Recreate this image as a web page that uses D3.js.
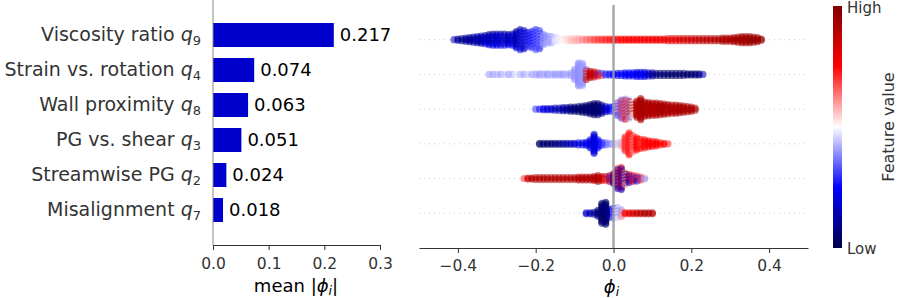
<!DOCTYPE html>
<html>
<head>
<meta charset="utf-8">
<script src="https://cdn.jsdelivr.net/npm/d3@7"></script>
<style>
  body { margin: 0; background: #fff; }
  text { font-family: "DejaVu Sans", sans-serif; }
</style>
</head>
<body>
<script>
// features, top to bottom
var featureNames = ["Viscosity ratio", "Strain vs. rotation", "Wall proximity", "PG vs. shear", "Streamwise PG", "Misalignment"];
var featureSub = ["9", "4", "8", "3", "2", "7"];
var meanAbsPhi = [0.217, 0.074, 0.063, 0.051, 0.024, 0.018];

var barTicks = [0.0, 0.1, 0.2, 0.3];
var phiTicks = [-0.4, -0.2, 0.0, 0.2, 0.4];

// swarm bins: [phi, spread, feature value, (alt feature value)]
var swarmQ9 = [[-0.41,0,0.15],[-0.40,0.5,0.12],[-0.39,1,0.08],[-0.38,1.5,0.1],[-0.37,2,0.12],[-0.36,2.5,0.1],[-0.35,3,0.15],[-0.34,3.5,0.12],
  [-0.33,4,0.1,0.24],[-0.32,5,0.08,0.22],[-0.31,5.5,0.06,0.26],[-0.30,5.5,0.1,0.24],[-0.29,5.5,0.12,0.26],[-0.28,5.5,0.06,0.28],[-0.27,5,0.1,0.25],
  [-0.26,5.5,0.08,0.27],[-0.25,8,0.06,0.25],[-0.24,10,0.1,0.28],[-0.23,9,0.14,0.3],[-0.22,7,0.18,0.32],[-0.21,8,0.24,0.34],[-0.20,10,0.28,0.36],
  [-0.19,9,0.3,0.38],[-0.18,5,0.36,0.4],[-0.17,3.5,0.38,0.42],[-0.16,3,0.4,0.44],[-0.15,2,0.44,0.48],[-0.14,1.5,0.48,0.52],[-0.13,1.5,0.5,0.54],
  [-0.12,1.5,0.52,0.56],[-0.11,1,0.55,0.57],[-0.10,1,0.57,0.58],[-0.09,1,0.59],[-0.08,0.5,0.61],[-0.07,0.5,0.63],[-0.06,0.5,0.65],[-0.05,0.5,0.67],
  [-0.04,0.5,0.69],[-0.03,0.5,0.7],[-0.02,0.5,0.71],[-0.01,0.5,0.72],[0.00,0.5,0.73],[0.01,0.5,0.74],[0.02,0.5,0.74],[0.03,0.5,0.75],[0.04,0.5,0.75],
  [0.05,0.5,0.75],[0.06,0.5,0.76],[0.07,0.5,0.76],[0.08,0.5,0.77],[0.09,0.5,0.77],[0.10,0.5,0.78],[0.11,0.5,0.78],[0.12,0.5,0.79],[0.13,0.5,0.79],
  [0.14,1,0.8],[0.15,1,0.8],[0.16,1,0.81],[0.17,1,0.82],[0.18,1,0.83],[0.19,1,0.84],[0.20,1,0.85],[0.21,1,0.86],[0.22,1,0.87],[0.23,1,0.88],
  [0.24,1,0.88],[0.25,1,0.89],[0.26,1,0.9],[0.27,1,0.9],[0.28,1.5,0.91],[0.29,1.5,0.91],[0.30,1.5,0.92],[0.31,2,0.92],[0.32,2.5,0.93],[0.33,3,0.93],
  [0.34,3,0.94],[0.35,3,0.94],[0.36,2.5,0.95],[0.37,2,0.95],[0.38,0.5,0.95]];
var swarmQ4 = [[-0.32,0,0.4],[-0.31,0,0.4],[-0.30,0,0.42],[-0.29,0,0.4],[-0.28,0,0.45],[-0.27,0,0.4],[-0.26,0,0.42],[-0.25,0,0.48],[-0.24,0,0.42],
  [-0.23,0,0.4],[-0.22,0,0.45],[-0.21,0,0.4],[-0.20,0.5,0.42],[-0.19,0.5,0.4],[-0.18,0.5,0.42],[-0.17,0.5,0.4],[-0.16,0.5,0.42],[-0.15,0.5,0.4],
  [-0.14,0.5,0.41],[-0.13,0.5,0.4],[-0.12,0.5,0.42],[-0.11,1,0.4],[-0.10,5,0.4],[-0.09,11.5,0.39],[-0.08,11,0.4],[-0.07,5,0.4,0.85],[-0.06,3,0.87],
  [-0.05,2.5,0.86],[-0.04,1.5,0.8,0.3],[-0.03,1,0.3,0.7],[-0.02,0.5,0.3],[-0.01,0.5,0.28],[0.00,0.5,0.26],[0.01,1,0.25],[0.02,1,0.24],[0.03,1.5,0.25],
  [0.04,1.5,0.24],[0.05,1.5,0.25],[0.06,2,0.22],[0.07,2,0.2,0.25],[0.08,2,0.22],[0.09,1.5,0.18],[0.10,1.5,0.12],[0.11,1,0.08],[0.12,1,0.06],
  [0.13,1,0.05],[0.14,1,0.05],[0.15,1,0.05],[0.16,1,0.05],[0.17,1,0.05],[0.18,1,0.05],[0.19,0.5,0.05],[0.20,0.5,0.05],[0.21,0.5,0.06],
  [0.22,0.5,0.08],[0.23,0,0.15]];
var swarmQ8 = [[-0.20,0,0.3],[-0.19,0,0.25],[-0.18,0.5,0.22],[-0.17,0.5,0.2],[-0.16,0.5,0.18],[-0.15,1,0.15],[-0.14,1,0.14],[-0.13,1.5,0.12],
  [-0.12,1.5,0.1],[-0.11,2,0.08],[-0.10,2,0.06],[-0.09,2.5,0.05],[-0.08,3,0.05],[-0.07,3.5,0.05],[-0.06,4.5,0.05],[-0.05,5.5,0.05],[-0.04,5.5,0.05],
  [-0.03,4,0.08],[-0.02,2.5,0.15],[-0.01,2,0.22],[0.00,2.5,0.25,0.35],[0.01,6,0.3,0.55],[0.02,9,0.35,0.7],[0.03,10,0.4,0.78],[0.04,9,0.42,0.85],
  [0.05,6,0.5,0.9],[0.06,8,0.88,0.92],[0.07,10.5,0.92],[0.08,7,0.92],[0.09,6.5,0.9],[0.10,6,0.92],[0.11,6,0.9],[0.12,5.5,0.92],[0.13,5,0.92],
  [0.14,4.5,0.9],[0.15,4,0.92],[0.16,4,0.92],[0.17,3.5,0.92],[0.18,3,0.92],[0.19,2.5,0.92],[0.20,2,0.92],[0.21,1,0.92]];
var swarmQ3 = [[-0.19,0.5,0.04],[-0.18,0.5,0.04],[-0.17,0.5,0.05],[-0.16,0.5,0.05],[-0.15,0.5,0.06],[-0.14,0.5,0.08],[-0.13,0.5,0.1],
  [-0.12,0.5,0.12],[-0.11,0.5,0.15],[-0.10,0.5,0.18],[-0.09,1,0.2],[-0.08,1,0.22],[-0.07,1.5,0.22],[-0.06,4,0.22],[-0.05,9.5,0.2],[-0.04,4,0.24],
  [-0.03,1.5,0.28],[-0.02,1,0.33],[-0.01,0.5,0.38],[0.00,0.5,0.42],[0.01,1,0.45],[0.02,2,0.45,0.6],[0.03,7,0.7],[0.04,11,0.72],[0.05,8,0.72,0.62],
  [0.06,6,0.74],[0.07,4.5,0.74,0.68],[0.08,4,0.74],[0.09,3,0.75],[0.10,2.5,0.75],[0.11,2,0.75],[0.12,1,0.75],[0.13,0.5,0.75],[0.14,0,0.72]];
var swarmQ2 = [[-0.23,0,0.7],[-0.22,0.5,0.85],[-0.21,0.5,0.9],[-0.20,1,0.9],[-0.19,1,0.9],[-0.18,1,0.9],[-0.17,1,0.9],[-0.16,1,0.9],[-0.15,1,0.9],
  [-0.14,1,0.9],[-0.13,1,0.9],[-0.12,1,0.9],[-0.11,1,0.9],[-0.10,1,0.9],[-0.09,1.5,0.9],[-0.08,1.5,0.9],[-0.07,1.5,0.9],[-0.06,1.5,0.9],
  [-0.05,2,0.9],[-0.04,3,0.9],[-0.03,2,0.9,0.85],[-0.02,2,0.88,0.7],[-0.01,3,0.85,0.3],[0.00,5,0.8,0.2],[0.01,10,0.7,0.15],[0.02,11,0.8,0.2],
  [0.03,6,0.6,0.1],[0.04,4,0.75,0.2],[0.05,3,0.8,0.3],[0.06,2.5,0.7,0.2],[0.07,1.5,0.7,0.3],[0.08,0.5,0.6,0.4]];
var swarmQ7 = [[-0.07,0.5,0.18],[-0.06,0.5,0.15],[-0.05,1,0.12],[-0.04,3,0.06],[-0.03,10,0.05],[-0.02,11,0.05],[-0.01,4,0.1],[0.00,5,0.25,0.4],
  [0.01,5.5,0.38,0.5],[0.02,3.5,0.4,0.6],[0.03,0.5,0.75],[0.04,0.5,0.8],[0.05,0.5,0.82],[0.06,0.5,0.85],[0.07,0.5,0.88],[0.08,0.5,0.9],
  [0.09,0.5,0.9],[0.10,0.5,0.9]];
var swarms = [swarmQ9, swarmQ4, swarmQ8, swarmQ3, swarmQ2, swarmQ7];

var width = 897, height = 298;
var svg = d3.select("body").append("svg")
    .attr("width", width)
    .attr("height", height);

var seismic = d3.scaleLinear()
    .domain([0, 0.25, 0.5, 0.75, 1])
    .range(["#00004c", "#0000ff", "#ffffff", "#ff0000", "#800000"]);

// ---------- left: mean |phi| bars ----------
var xBar = d3.scaleLinear().domain([0, 0.3]).range([213, 380]);
var yBar = d3.scaleLinear().domain([-1, 6]).range([245, 0]);
var rowOf = function(i) { return featureNames.length - 1 - i; };

svg.selectAll(".bar")
   .data(meanAbsPhi)
   .enter().append("rect")
   .attr("class", "bar")
   .attr("x", xBar(0))
   .attr("y", function(d, i) { return yBar(rowOf(i)) - 12; })
   .attr("width", function(d) { return xBar(d) - xBar(0); })
   .attr("height", 24)
   .attr("fill", "#0000cd");

svg.selectAll(".val")
   .data(meanAbsPhi)
   .enter().append("text")
   .attr("class", "val")
   .attr("x", function(d) { return xBar(d) + 6; })
   .attr("y", function(d, i) { return yBar(rowOf(i)) + 6; })
   .style("font-size", "18px")
   .attr("fill", "#000")
   .text(function(d) { return d3.format(".3f")(d); });

var lab = svg.selectAll(".flab")
   .data(featureNames)
   .enter().append("text")
   .attr("class", "flab")
   .attr("x", 201)
   .attr("y", function(d, i) { return yBar(rowOf(i)) + 6; })
   .attr("text-anchor", "end")
   .attr("fill", "#333")
   .style("font-size", "19px");
lab.append("tspan").text(function(d) { return d + " "; });
lab.append("tspan").style("font-style", "italic").text("q");
lab.append("tspan").style("font-size", "13px").attr("dy", 4)
   .text(function(d, i) { return featureSub[i]; });

svg.append("line")
   .attr("x1", xBar(0)).attr("x2", xBar(0))
   .attr("y1", 0).attr("y2", 245)
   .attr("stroke", "#888").attr("stroke-width", 1);

var gxBar = svg.append("g")
   .attr("transform", "translate(0,245)")
   .call(d3.axisBottom(xBar).tickValues(barTicks).tickFormat(d3.format(".1f"))
         .tickSize(5).tickSizeOuter(0).tickPadding(8));
gxBar.selectAll("text").style("font-size", "15.5px").attr("fill", "#333");
gxBar.selectAll("line, path").attr("stroke", "#333");

var t1 = svg.append("text")
   .attr("x", 296).attr("y", 292)
   .attr("text-anchor", "middle")
   .attr("fill", "#000")
   .style("font-size", "18px");
t1.append("tspan").text("mean |");
t1.append("tspan").style("font-style", "italic").text("ϕ");
t1.append("tspan").style("font-style", "italic").style("font-size", "12.5px").attr("dy", 3).text("i");
t1.append("tspan").attr("dy", -3).text("|");

// ---------- right: beeswarm ----------
var xPhi = d3.scaleLinear().domain([-0.5, 0.5]).range([419, 808]);
var yRow = d3.scaleLinear().domain([-1, 6]).range([248, 5]);
var spreadPx = d3.scaleLinear().domain([0, 12]).range([0, 12]);

svg.selectAll(".grid")
   .data(featureNames)
   .enter().append("line")
   .attr("class", "grid")
   .attr("x1", xPhi(-0.5)).attr("x2", xPhi(0.5))
   .attr("y1", function(d, i) { return yRow(rowOf(i)); })
   .attr("y2", function(d, i) { return yRow(rowOf(i)); })
   .attr("stroke", "#cccccc")
   .attr("stroke-width", 1)
   .attr("stroke-dasharray", "1,4");

var dots = [];
swarms.forEach(function(rows, i) {
  var yc = yRow(rowOf(i));
  rows.forEach(function(b) {
    var s = spreadPx(b[1]);
    var n = Math.max(1, Math.round(2 * s / 1.5) + 1);
    for (var k = 0; k < n; k++) {
      var off = n === 1 ? 0 : -s + 2 * s * k / (n - 1);
      var v = (k % 2 === 1 && b.length > 3) ? b[3] : b[2];
      dots.push({ x: xPhi(b[0]), y: yc + off, v: v });
    }
  });
});

svg.append("g").selectAll("circle")
   .data(dots)
   .enter().append("circle")
   .attr("cx", function(d) { return d.x; })
   .attr("cy", function(d) { return d.y; })
   .attr("r", 3.6)
   .attr("fill", function(d) { return seismic(d.v); })
   .attr("fill-opacity", 0.55);

svg.append("line")
   .attr("x1", xPhi(0)).attr("x2", xPhi(0))
   .attr("y1", 5).attr("y2", 248)
   .attr("stroke", "#999999")
   .attr("stroke-opacity", 0.85)
   .attr("stroke-width", 2.5);

var gxPhi = svg.append("g")
   .attr("transform", "translate(0,248)")
   .call(d3.axisBottom(xPhi).tickValues(phiTicks).tickFormat(d3.format(".1f"))
         .tickSize(5).tickSizeOuter(0).tickPadding(7));
gxPhi.selectAll("text").style("font-size", "15.5px").attr("fill", "#333");
gxPhi.selectAll("line, path").attr("stroke", "#333");

var t2 = svg.append("text")
   .attr("x", xPhi(0) - 2).attr("y", 293)
   .attr("text-anchor", "middle")
   .attr("fill", "#000")
   .style("font-size", "18px");
t2.append("tspan").style("font-style", "italic").text("ϕ");
t2.append("tspan").style("font-style", "italic").style("font-size", "12.5px").attr("dy", 3).text("i");

// ---------- colour bar ----------
var grad = svg.append("defs").append("linearGradient")
   .attr("id", "cbar")
   .attr("x1", 0).attr("y1", 1).attr("x2", 0).attr("y2", 0);
grad.selectAll("stop")
   .data(seismic.domain())
   .enter().append("stop")
   .attr("offset", function(d) { return d; })
   .attr("stop-color", function(d) { return seismic(d); });

svg.append("rect")
   .attr("x", 833).attr("y", 6)
   .attr("width", 9).attr("height", 242)
   .attr("fill", "url(#cbar)");

svg.append("text").attr("x", 847).attr("y", 13)
   .style("font-size", "15px").attr("fill", "#333").text("High");
svg.append("text").attr("x", 847).attr("y", 254)
   .style("font-size", "15px").attr("fill", "#333").text("Low");
svg.append("text")
   .attr("transform", "translate(894,127) rotate(-90)")
   .attr("text-anchor", "middle")
   .style("font-size", "16px").attr("fill", "#333")
   .text("Feature value");
</script>
</body>
</html>
